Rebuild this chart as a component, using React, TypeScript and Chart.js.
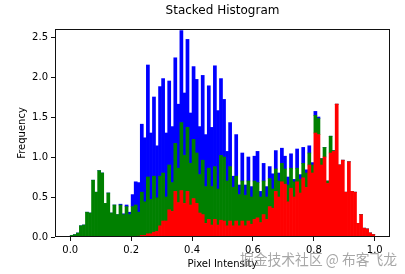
import React, { useEffect, useRef } from 'react';
import { Chart, registerables } from 'chart.js';

Chart.register(...registerables);

const TITLE = 'Stacked Histogram';
const X_LABEL = 'Pixel Intensity';
const Y_LABEL = 'Frequency';
const WATERMARK = '掘金技术社区 @ 布客飞龙';
const X_TICKS = [0, 0.2, 0.4, 0.6, 0.8, 1.0];
const Y_TICKS = [0, 0.5, 1.0, 1.5, 2.0, 2.5];
const BIN_RANGE = [0, 1];
const SERIES_NAMES = ['red', 'green', 'blue'];
const SERIES_COLORS = ['#ff0000', '#008000', '#0000ff'];

// density per bin (100 bins over [0, 1]), stacked red -> green -> blue
const red = [
  0, 0, 0, 0, 0, 0, 0, 0, 0, 0,
  0, 0, 0, 0, 0, 0, 0, 0, 0, 0,
  0, 0, 0.01, 0.02, 0.02, 0.04, 0.04, 0.06, 0.07, 0.14,
  0.20, 0.20, 0.34, 0.32, 0.57, 0.43, 0.58, 0.42, 0.57, 0.40,
  0.48, 0.42, 0.30, 0.28, 0.17, 0.22, 0.15, 0.22, 0.15, 0.21,
  0.20, 0.14, 0.20, 0.14, 0.20, 0.14, 0.20, 0.14, 0.20, 0.16,
  0.22, 0.24, 0.18, 0.28, 0.22, 0.38, 0.36, 0.57, 0.50, 0.69,
  0.66, 0.44, 0.61, 0.50, 0.69, 0.55, 0.74, 0.62, 0.90, 0.80,
  1.30, 1.28, 0.90, 1.00, 0.67, 1.05, 1.07, 1.66, 0.90, 0.96,
  0.56, 0.94, 0.57, 0.56, 0.17, 0.28, 0.11, 0.10, 0.05, 0.03,
];
const green = [
  0.02, 0.03, 0.05, 0.14, 0.15, 0.31, 0.30, 0.71, 0.56, 0.83,
  0.80, 0.42, 0.55, 0.30, 0.40, 0.28, 0.40, 0.28, 0.38, 0.28,
  0.38, 0.40, 0.30, 0.54, 0.42, 0.71, 0.43, 0.70, 0.42, 0.62,
  0.60, 0.30, 0.56, 0.36, 0.60, 0.43, 0.85, 0.60, 0.80, 0.52,
  0.74, 0.63, 0.48, 0.68, 0.46, 0.64, 0.48, 0.66, 0.45, 0.81,
  0.80, 0.56, 0.68, 0.48, 0.56, 0.39, 0.50, 0.38, 0.50, 0.34,
  0.48, 0.44, 0.32, 0.42, 0.28, 0.35, 0.24, 0.28, 0.20, 0.23,
  0.19, 0.21, 0.25, 0.19, 0.17, 0.17, 0.18, 0.18, 0.15, 0.10,
  0.22, 0.20, 0.08, 0.12, 0.03, 0.21, 0.01, 0, 0, 0,
  0, 0, 0, 0, 0, 0, 0, 0, 0, 0,
];
const blue = [
  0, 0, 0, 0, 0, 0, 0, 0, 0, 0,
  0, 0, 0, 0, 0, 0, 0.01, 0.01, 0.02, 0.03,
  0.15, 0.29, 0.37, 0.85, 0.80, 1.40, 0.83, 0.99, 0.65, 1.12,
  1.18, 0.80, 1.05, 0.70, 1.07, 0.80, 1.15, 0.78, 1.10, 0.63,
  0.91, 0.92, 0.60, 1.06, 0.65, 1.03, 0.74, 1.26, 0.98, 0.96,
  0.72, 0.37, 0.55, 0.14, 0.52, 0.12, 0.35, 0.13, 0.30, 0.13,
  0.31, 0.39, 0.07, 0.22, 0.13, 0.15, 0.19, 0.23, 0.10, 0.19,
  0.16, 0.10, 0.18, 0.03, 0.24, 0.06, 0.20, 0.04, 0.09, 0.03,
  0.05, 0.02, 0, 0, 0, 0, 0, 0, 0, 0,
  0, 0, 0, 0, 0, 0, 0, 0, 0, 0,
];

const FONT = '"DejaVu Sans", sans-serif';

const decorPlugin = {
  id: 'decor',
  afterDatasetsDraw(chart: any) {
    const { ctx, chartArea } = chart;
    const l = Math.round(chartArea.left) + 0.5;
    const t = Math.round(chartArea.top) + 0.5;
    const r = Math.round(chartArea.right) - 0.5;
    const b = Math.round(chartArea.bottom) - 0.5;
    ctx.save();
    ctx.strokeStyle = '#111';
    ctx.lineWidth = 1;
    ctx.strokeRect(l, t, r - l, b - t);
    ctx.restore();
  },
  afterDraw(chart: any) {
    const { ctx, chartArea } = chart;
    ctx.save();
    ctx.fillStyle = '#000';
    ctx.font = '12px ' + FONT;
    ctx.textAlign = 'center';
    ctx.textBaseline = 'alphabetic';
    ctx.fillText(TITLE, (chartArea.left + chartArea.right) / 2, 14);
    ctx.font = '15px "Noto Sans CJK SC", sans-serif';
    ctx.textAlign = 'right';
    ctx.textBaseline = 'middle';
    ctx.fillStyle = 'rgba(130,130,130,0.7)';
    ctx.fillText(WATERMARK, 397, 259.5, 157);
    ctx.restore();
  },
};

export default function App() {
  const ref = useRef<HTMLCanvasElement>(null);
  useEffect(() => {
    document.body.style.margin = '0';
    const n = red.length;
    const w = (BIN_RANGE[1] - BIN_RANGE[0]) / n;
    const centers = red.map((_, i) => BIN_RANGE[0] + (i + 0.5) * w);
    const all = [red, green, blue];
    const datasets = all.map((vals, k) => ({
      label: SERIES_NAMES[k],
      data: vals.map((v, i) => ({ x: centers[i], y: v })),
      backgroundColor: SERIES_COLORS[k],
      borderWidth: 0,
      barPercentage: 1,
      categoryPercentage: 1,
    }));
    const chart = new Chart(ref.current as HTMLCanvasElement, {
      type: 'bar',
      data: { datasets } as any,
      options: {
        responsive: false,
        animation: false,
        layout: { padding: { top: 29, right: 15, left: 0, bottom: 0 } },
        plugins: {
          legend: { display: false },
          tooltip: { enabled: false },
          title: { display: false },
        },
        scales: {
          x: {
            type: 'linear',
            stacked: true,
            offset: false,
            min: -0.05,
            max: 1.05,
            afterBuildTicks: (s: any) => {
              s.ticks = X_TICKS.map((v) => ({ value: v }));
            },
            afterFit: (s: any) => {
              s.height = 37;
            },
            grid: {
              display: true,
              drawOnChartArea: false,
              drawTicks: true,
              tickLength: 4,
              color: '#111',
              offset: false,
            },
            border: { display: false },
            ticks: {
              font: { family: FONT, size: 10 },
              color: '#000',
              padding: 3,
              maxRotation: 0,
              autoSkip: false,
              callback: (v: any) => Number(v).toFixed(1),
            },
            title: {
              display: true,
              text: X_LABEL,
              font: { family: FONT, size: 10 },
              color: '#000',
              padding: { top: 0, bottom: 4 },
            },
          },
          y: {
            stacked: true,
            min: 0,
            max: 2.6,
            afterBuildTicks: (s: any) => {
              s.ticks = Y_TICKS.map((v) => ({ value: v }));
            },
            afterFit: (s: any) => {
              s.width = 55;
            },
            grid: {
              display: true,
              drawOnChartArea: false,
              drawTicks: true,
              tickLength: 4,
              color: '#111',
            },
            border: { display: false },
            ticks: {
              font: { family: FONT, size: 10 },
              color: '#000',
              padding: 3,
              callback: (v: any) => Number(v).toFixed(1),
            },
            title: {
              display: true,
              text: Y_LABEL,
              font: { family: FONT, size: 10 },
              color: '#000',
              padding: { top: 16, bottom: 0 },
            },
          },
        },
      } as any,
      plugins: [decorPlugin],
    });
    return () => chart.destroy();
  }, []);
  return (
    <div style={{ position: 'fixed', left: 0, top: 0, width: 405, height: 274, background: '#fff' }}>
      <canvas ref={ref} width={405} height={274} style={{ width: 405, height: 274 }} />
    </div>
  );
}
